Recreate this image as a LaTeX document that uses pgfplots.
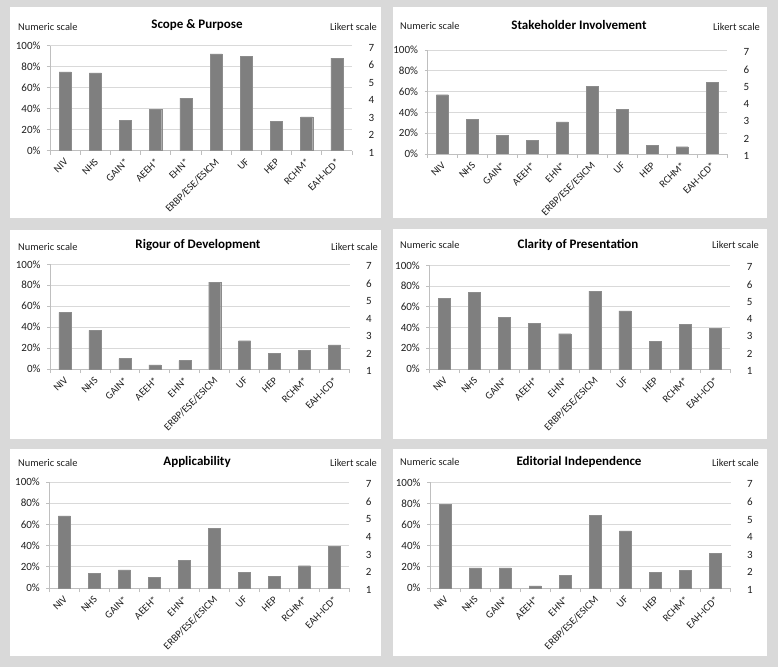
\documentclass[border=0pt]{standalone}
\usepackage{pgfplots}
\pgfplotsset{compat=1.18}
\usepackage{fontspec}
\setmainfont{Carlito}
\definecolor{bg}{HTML}{D9D9D9}
\definecolor{barc}{HTML}{7F7F7F}
\definecolor{baredge}{HTML}{8C8C8C}
\definecolor{gridc}{HTML}{D9D9D9}
\definecolor{axc}{HTML}{BFBFBF}
\definecolor{txt}{HTML}{1F1F1F}
\newcommand{\tkf}{\fontsize{11}{12}\selectfont}
\newcommand{\lbf}{\fontsize{10.4}{12}\selectfont}
\newcommand{\ttf}{\fontsize{13}{15}\selectfont\bfseries}
\pgfplotsset{
  mainax/.style={
    scale only axis, anchor=south west, ybar,
    xmin=-0.5, xmax=9.5, ymin=0, ymax=100,
    axis x line*=bottom, axis y line*=left,
    axis line style={draw=axc, line width=0.75pt},
    xtick={0,...,9},
    xticklabels={NIV,NHS,GAIN*,AEEH*,EHN*,ERBP/ESE/ESICM,UF,HEP,RCHM*,EAH-ICD*},
    minor xtick={-0.5,0.5,...,9.5},
    ytick={0,20,...,100},
    yticklabel={\pgfmathprintnumber{\tick}\%},
    /pgf/number format/assume math mode=true,
    ymajorgrids, grid style={draw=gridc, line width=0.75pt},
    tick align=outside,
    major tick length=3pt, minor tick length=4pt,
    major x tick style={draw=none},
    minor x tick style={draw=axc, line width=0.75pt},
    major y tick style={draw=axc, line width=0.75pt},
    yticklabel style={font=\tkf, text=txt, xshift=-3pt},
    xticklabel style={font=\lbf, text=txt, xshift=2pt, yshift=-6pt, rotate=45, anchor=east, inner sep=1pt},
    bar width=0.4,
  },
  rightax/.style={
    scale only axis, anchor=south west,
    xmin=-0.5, xmax=9.5, ymin=1, ymax=7,
    hide x axis, axis y line*=right,
    y axis line style={draw=none},
    ytick={1,...,7}, major tick length=0pt,
    /pgf/number format/assume math mode=true,
    yticklabel style={font=\tkf, text=txt, xshift=13pt, yshift=-2pt},
  },
}
\newcommand{\panel}[5]{%
  \begin{axis}[mainax, at={(#1pt,#2pt)}, width=#3pt, height=#4pt]
    \addplot[fill=barc, draw=baredge, line width=0.4pt] coordinates {#5};
  \end{axis}
  \begin{axis}[rightax, at={(#1pt,#2pt)}, width=#3pt, height=#4pt]
    \addplot[draw=none] coordinates {(0,1)};
  \end{axis}}
\newcommand{\heads}[7]{%
  \node[font=\ttf, text=black, inner sep=0pt] at (#1pt,#2pt) {#3};
  \node[font=\lbf, text=txt, anchor=west, inner sep=0pt] at (#4pt,#5pt) {Numeric scale};
  \node[font=\lbf, text=txt, anchor=east, inner sep=0pt] at (#6pt,#7pt) {Likert scale};}
\begin{document}
\begin{tikzpicture}
\path[use as bounding box, fill=bg] (0,0) rectangle (778pt,667pt);
\fill[white] (10pt,449pt) rectangle (381pt,660pt);
\fill[white] (393pt,449pt) rectangle (767pt,660pt);
\fill[white] (10pt,228pt) rectangle (381pt,437pt);
\fill[white] (393pt,228pt) rectangle (767pt,438pt);
\fill[white] (10pt,11pt) rectangle (381pt,218pt);
\fill[white] (393pt,11pt) rectangle (767pt,218pt);

\heads{197}{642}{Scope \& Purpose}{18}{640}{377}{640}
\heads{579}{642}{Stakeholder Involvement}{400}{641}{760}{640}
\heads{198}{422}{Rigour of Development}{18}{420}{378}{420}
\heads{578}{422}{Clarity of Presentation}{400}{422}{759}{422}
\heads{197}{205}{Applicability}{18}{204}{377}{204}
\heads{579}{205}{Editorial Independence}{400}{205}{759}{204}

\panel{50}{516.4}{302}{105}{(0,75) (1,74) (2,29) (3,39) (4,50) (5,92) (6,90) (7,28) (8,32) (9,88)}
\panel{427.5}{513}{299.5}{104}{(0,57) (1,33) (2,18) (3,13) (4,31) (5,65) (6,43) (7,8) (8,7) (9,69)}
\panel{50}{298}{299.5}{104.7}{(0,54) (1,37) (2,10) (3,4) (4,8) (5,83) (6,27) (7,15) (8,18) (9,23)}
\panel{429.3}{298}{301}{103.7}{(0,68) (1,74) (2,50) (3,44) (4,34) (5,75) (6,56) (7,27) (8,43) (9,39)}
\panel{49.3}{79}{300}{106}{(0,68) (1,14) (2,17) (3,10) (4,26) (5,56) (6,15) (7,11) (8,21) (9,39)}
\panel{430}{79}{300.5}{105.7}{(0,79) (1,19) (2,19) (3,2) (4,12) (5,69) (6,54) (7,15) (8,17) (9,33)}
\end{tikzpicture}
\end{document}
